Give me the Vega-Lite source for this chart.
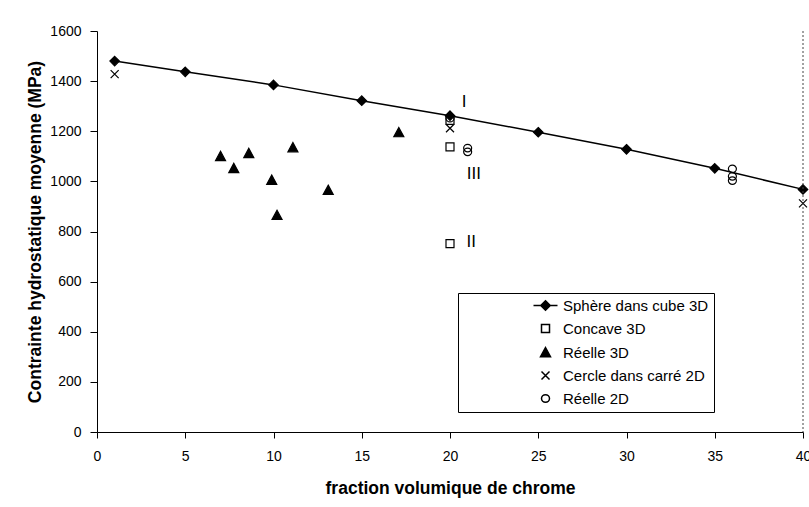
{
  "$schema": "https://vega.github.io/schema/vega-lite/v6.json",
  "autosize": "none",
  "width": 706,
  "height": 401,
  "padding": {"left": 97, "top": 31, "right": 6, "bottom": 75},
  "background": "white",
  "config": {
    "font": "Liberation Sans",
    "view": {"stroke": null},
    "axis": {
      "grid": false,
      "domainColor": "black",
      "tickColor": "black",
      "labelColor": "black",
      "titleColor": "black",
      "labelFont": "Liberation Sans",
      "titleFont": "Liberation Sans",
      "labelFontSize": 14,
      "titleFontSize": 17.5,
      "titleFontWeight": "bold"
    },
    "legend": {
      "title": null,
      "orient": "none",
      "legendX": 361,
      "legendY": 262,
      "direction": "vertical",
      "padding": 5,
      "strokeColor": "black",
      "fillColor": "white",
      "symbolOffset": 75,
      "symbolSize": 100,
      "labelOffset": 10,
      "labelFontSize": 15,
      "labelColor": "black",
      "labelFont": "Liberation Sans",
      "rowPadding": 7,
      "labelLimit": 300
    }
  },
  "datasets": {
    "pts": [
      {"x": 1, "y": 1480, "series": "Sphère dans cube 3D"},
      {"x": 5, "y": 1437, "series": "Sphère dans cube 3D"},
      {"x": 10, "y": 1385, "series": "Sphère dans cube 3D"},
      {"x": 15, "y": 1322, "series": "Sphère dans cube 3D"},
      {"x": 20, "y": 1262, "series": "Sphère dans cube 3D"},
      {"x": 25, "y": 1196, "series": "Sphère dans cube 3D"},
      {"x": 30, "y": 1128, "series": "Sphère dans cube 3D"},
      {"x": 35, "y": 1052, "series": "Sphère dans cube 3D"},
      {"x": 40, "y": 968, "series": "Sphère dans cube 3D"},
      {"x": 20, "y": 1243, "series": "Concave 3D"},
      {"x": 20, "y": 1138, "series": "Concave 3D"},
      {"x": 20, "y": 752, "series": "Concave 3D"},
      {"x": 7, "y": 1100, "series": "Réelle 3D"},
      {"x": 7.75, "y": 1052, "series": "Réelle 3D"},
      {"x": 8.6, "y": 1112, "series": "Réelle 3D"},
      {"x": 9.9, "y": 1005, "series": "Réelle 3D"},
      {"x": 10.2, "y": 865, "series": "Réelle 3D"},
      {"x": 11.1, "y": 1135, "series": "Réelle 3D"},
      {"x": 13.1, "y": 965, "series": "Réelle 3D"},
      {"x": 17.1, "y": 1195, "series": "Réelle 3D"},
      {"x": 1, "y": 1428, "series": "Cercle dans carré 2D"},
      {"x": 20, "y": 1212, "series": "Cercle dans carré 2D"},
      {"x": 40, "y": 912, "series": "Cercle dans carré 2D"},
      {"x": 20, "y": 1252, "series": "Réelle 2D"},
      {"x": 21, "y": 1133, "series": "Réelle 2D"},
      {"x": 21, "y": 1118, "series": "Réelle 2D"},
      {"x": 36, "y": 1050, "series": "Réelle 2D"},
      {"x": 36, "y": 1020, "series": "Réelle 2D"},
      {"x": 36, "y": 1003, "series": "Réelle 2D"}
    ],
    "notes": [
      {"x": 20.8, "y": 1316, "label": "I"},
      {"x": 21.35, "y": 1028, "label": "III"},
      {"x": 21.2, "y": 757, "label": "II"}
    ]
  },
  "layer": [
    {
      "data": {"name": "pts"},
      "transform": [{"filter": "datum.series === 'Sphère dans cube 3D'"}],
      "mark": {"type": "line", "color": "black", "strokeWidth": 1.5},
      "encoding": {
        "x": {"field": "x", "type": "quantitative"},
        "y": {"field": "y", "type": "quantitative"}
      }
    },
    {
      "data": {"name": "pts"},
      "transform": [{"filter": "datum.series === 'Sphère dans cube 3D'"}],
      "mark": {"type": "point", "filled": true, "shape": "M0,-0.95L0.95,0L0,0.95L-0.95,0Z", "fill": "black", "stroke": "black", "strokeWidth": 1.2, "size": 100, "opacity": 1},
      "encoding": {
        "x": {"field": "x", "type": "quantitative"},
        "y": {"field": "y", "type": "quantitative"}
      }
    },
    {
      "data": {"name": "pts"},
      "transform": [{"filter": "datum.series !== 'Sphère dans cube 3D'"}],
      "mark": {"type": "point", "filled": true, "stroke": "black", "strokeWidth": 1.2, "size": 100, "opacity": 1},
      "encoding": {
        "x": {
          "field": "x", "type": "quantitative",
          "scale": {"domain": [0, 40], "nice": false},
          "axis": {"values": [0, 5, 10, 15, 20, 25, 30, 35, 40], "format": "d", "tickSize": 6, "labelPadding": 18, "labelBaseline": "middle", "title": "fraction volumique de chrome", "titleY": 56, "titleBaseline": "middle", "labelFlush": false}
        },
        "y": {
          "field": "y", "type": "quantitative",
          "scale": {"domain": [0, 1600], "nice": false},
          "axis": {"values": [0, 200, 400, 600, 800, 1000, 1200, 1400, 1600], "format": "d", "tickSize": 7, "labelPadding": 9, "title": "Contrainte hydrostatique moyenne (MPa)", "titleX": -62, "titleBaseline": "middle"}
        },
        "shape": {
          "field": "series", "type": "nominal",
          "scale": {
            "domain": ["Sphère dans cube 3D", "Concave 3D", "Réelle 3D", "Cercle dans carré 2D", "Réelle 2D"],
            "range": ["M-2.4,0L2.4,0M0,-0.95L0.95,0L0,0.95L-0.95,0Z", "M-0.8,-0.8H0.8V0.8H-0.8Z", "M0,-1L1,0.85H-1Z", "M-0.8,-0.8L0.8,0.8M-0.8,0.8L0.8,-0.8", "M0.8,0A0.8,0.75 0 1,1 -0.8,0A0.8,0.75 0 1,1 0.8,0Z"]
          },
          "legend": {
            "encode": {
              "symbols": {
                "update": {
                  "stroke": {"value": "black"},
                  "strokeWidth": {"value": 1.2},
                  "opacity": {"value": 1}
                }
              }
            }
          }
        },
        "fill": {
          "field": "series", "type": "nominal",
          "scale": {
            "domain": ["Sphère dans cube 3D", "Concave 3D", "Réelle 3D", "Cercle dans carré 2D", "Réelle 2D"],
            "range": ["black", "transparent", "black", "transparent", "transparent"]
          },
          "legend": {
            "encode": {
              "symbols": {
                "update": {
                  "stroke": {"value": "black"},
                  "strokeWidth": {"value": 1.2},
                  "opacity": {"value": 1}
                }
              }
            }
          }
        }
      }
    },
    {
      "data": {"name": "notes"},
      "mark": {"type": "text", "fontSize": 17, "font": "Liberation Sans", "color": "black", "baseline": "middle", "align": "center", "letterSpacing": 1.5},
      "encoding": {
        "x": {"field": "x", "type": "quantitative"},
        "y": {"field": "y", "type": "quantitative"},
        "text": {"field": "label"}
      }
    },
    {
      "data": {"values": [{"xr": 40}]},
      "mark": {"type": "rule", "color": "#444", "strokeDash": [2, 2], "strokeWidth": 1},
      "encoding": {"x": {"field": "xr", "type": "quantitative"}}
    }
  ]
}
